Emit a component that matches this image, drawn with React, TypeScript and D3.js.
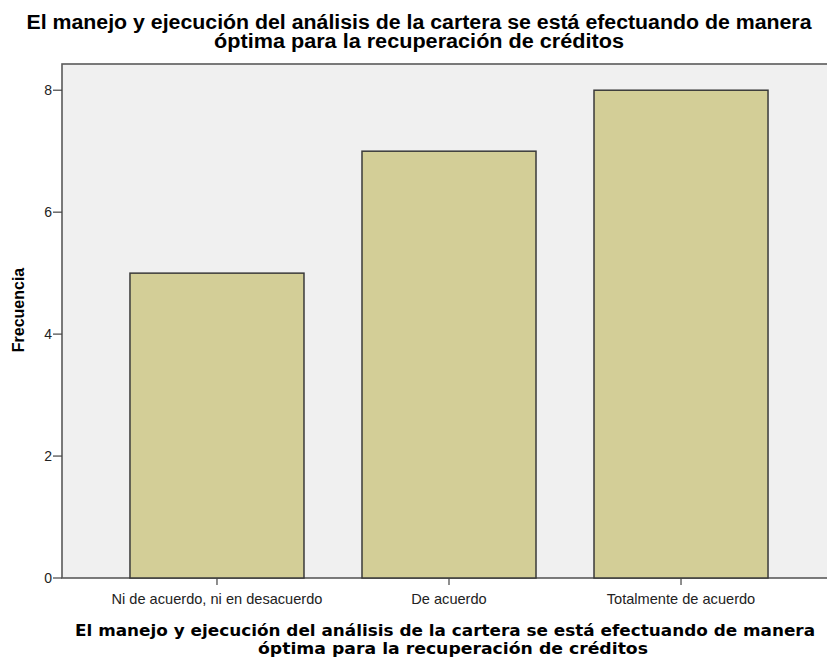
import React, { useEffect } from 'react';
import * as d3 from 'd3';

const categories = ['Ni de acuerdo, ni en desacuerdo', 'De acuerdo', 'Totalmente de acuerdo'];
const frequencies = [5, 7, 8];
const yTicks = [0, 2, 4, 6, 8];
const titleLines = [
  'El manejo y ejecución del análisis de la cartera se está efectuando de manera',
  'óptima para la recuperación de créditos',
];
const yLabel = 'Frecuencia';

export default function App() {
  useEffect(() => {
    document.body.style.margin = '0';
  }, []);

  const width = 827, height = 661;
  const left = 62, top = 64, bottom = 578, right = 836;

  const x = d3.scaleBand<string>()
    .domain(categories)
    .range([left, right])
    .paddingInner(0.25)
    .paddingOuter(0.293);

  const y = d3.scaleLinear().domain([0, 8.43]).range([bottom, top]);

  const sans = 'Liberation Sans, Arial, sans-serif';
  const wide = 'DejaVu Sans, Verdana, sans-serif';
  const topLens = [785, 410];
  const bottomLens = [740, 390];

  return (
    <svg width={width} height={height} style={{ display: 'block', fontFamily: sans }}>
      <rect x={0} y={0} width={width} height={height} fill="#ffffff" />
      {titleLines.map((t, i) => (
        <text key={i} x={419} y={29 + i * 19} textAnchor="middle" fontSize={20} fontWeight="bold" fill="#000"
          textLength={topLens[i]} lengthAdjust="spacingAndGlyphs">{t}</text>
      ))}
      <rect x={left} y={top} width={right - left} height={bottom - top} fill="#f0f0f0" stroke="#5a5a5a" strokeWidth={1.6} />
      {categories.map((c, i) => (
        <rect key={c} x={x(c)} y={y(frequencies[i])} width={x.bandwidth()} height={bottom - y(frequencies[i])}
          fill="#d3ce97" stroke="#3a3a3a" strokeWidth={1.5} />
      ))}
      {yTicks.map(t => (
        <g key={t}>
          <line x1={left - 9} x2={left} y1={y(t)} y2={y(t)} stroke="#444" strokeWidth={1.2} />
          <text x={left - 10} y={y(t)} dy="0.36em" textAnchor="end" fontSize={14} fill="#222">{t}</text>
        </g>
      ))}
      {categories.map(c => {
        const cx = (x(c) ?? 0) + x.bandwidth() / 2;
        return (
          <g key={c}>
            <line x1={cx} x2={cx} y1={bottom} y2={bottom + 7} stroke="#444" strokeWidth={1.2} />
            <text x={cx} y={604} textAnchor="middle" fontSize={14.6} fill="#222">{c}</text>
          </g>
        );
      })}
      {titleLines.map((t, i) => (
        <text key={i} x={i === 0 ? 445 : 453} y={636 + i * 18} textAnchor="middle" fontFamily={wide} fontSize={15} fontWeight="bold" fill="#000"
          textLength={bottomLens[i]} lengthAdjust="spacingAndGlyphs">{t}</text>
      ))}
      <text transform={`translate(24,310) rotate(-90)`} textAnchor="middle" fontSize={16} fontWeight="bold" fill="#000">{yLabel}</text>
    </svg>
  );
}
